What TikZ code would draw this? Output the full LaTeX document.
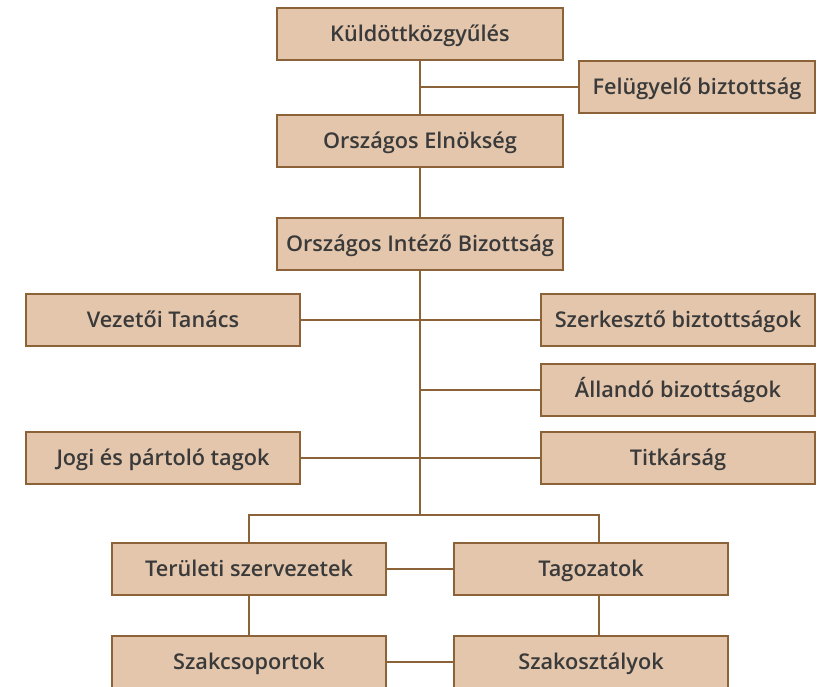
\documentclass[tikz,border=0pt]{standalone}
\usepackage{fontspec}
\setmainfont{Open Sans}
\newfontfamily\boxfont{Open Sans Semibold}
\usetikzlibrary{positioning,calc}
\definecolor{boxfill}{HTML}{E3C6AC}
\definecolor{boxline}{HTML}{8C6239}
\definecolor{boxtext}{HTML}{3A3A3A}

\begin{document}
\begin{tikzpicture}[x=0.03cm, y=-0.03cm,
  box/.style={rectangle, draw=boxline, fill=boxfill, line width=2pt, text=boxtext,
    font=\boxfont\fontsize{18.5}{21}\selectfont, inner sep=0pt,
    text height=13.2pt, text depth=0pt, minimum height=52*0.03cm},
  wide/.style={box, minimum width=286*0.03cm},
  side/.style={box, minimum width=274*0.03cm},
  link/.style={draw=boxline, line width=1.6pt}]
  \useasboundingbox (0,0) rectangle (828,686);

  \node (kgy) [wide] at (420,34) {Küldöttközgyűlés};
  \node (felugy) [box, minimum width=236*0.03cm] at (697,87) {Felügyelő biztottság};
  \node (elnok) [wide] at (420,141) {Országos Elnökség};
  \node (intezo) [wide] at (420,244) {Országos Intéző Bizottság};

  \node (vez) [side] at (163,320) {Vezetői Tanács};
  \node (szerk) [side] at (678,320) {Szerkesztő biztottságok};
  \node (alland) [side] at (678,390) {Állandó bizottságok};
  \node (jogi) [side] at (163,458) {Jogi és pártoló tagok};
  \node (titk) [side] at (678,458) {Titkárság};

  \node (terul) [side] at (249,569) {Területi szervezetek};
  \node (tagoz) [side] at (591,569) {Tagozatok};
  \node (szakcs) [side] at (249,662) {Szakcsoportok};
  \node (szako) [side] at (591,662) {Szakosztályok};

  \coordinate (branch) at (420,515);
  \coordinate (tagtop) at ([xshift=8*0.03cm]tagoz.north);
  \coordinate (tagbot) at ([xshift=8*0.03cm]tagoz.south);

  \path [link]
  (kgy) edge (elnok)
  (felugy.west) edge (felugy.west -| kgy.south)
  (elnok) edge (intezo)
  (intezo.south) edge (branch)
  (vez) edge (szerk)
  (alland.west) edge (alland.west -| intezo.south)
  (jogi) edge (titk)
  (terul) edge (tagoz)
  (terul) edge (szakcs)
  (tagbot) edge (tagbot |- szako.north)
  (szakcs) edge (szako);
  \draw [link] (terul.north) |- (branch) -| (tagtop);
\end{tikzpicture}
\end{document}
